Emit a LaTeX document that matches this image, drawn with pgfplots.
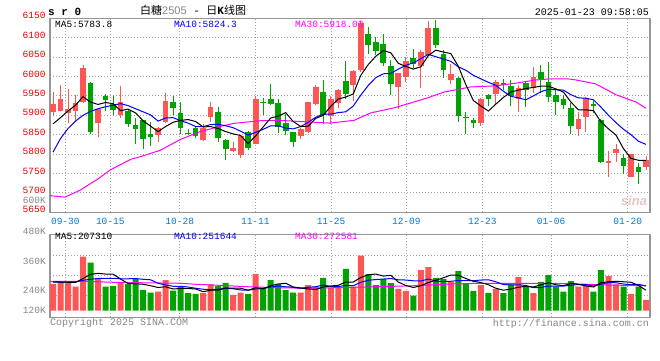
\documentclass[border=0pt]{standalone}
\usepackage{pgfplots}
\pgfplotsset{compat=1.18}
\usepackage{fontspec}
\setmainfont{Liberation Mono}
\newfontfamily\cjk{Noto Sans CJK SC}
\newfontfamily\lsans{Liberation Sans}
\definecolor{upRed}{RGB}{255,85,85}
\definecolor{downGreen}{RGB}{0,163,0}
\definecolor{labRed}{RGB}{235,0,0}
\definecolor{dateBlue}{RGB}{0,120,215}
\definecolor{gridGray}{RGB}{165,165,165}
\definecolor{frameGray}{RGB}{150,150,150}
\definecolor{txtGray}{RGB}{135,135,135}
\definecolor{maBlue}{RGB}{0,0,255}
\definecolor{maMag}{RGB}{255,0,255}
\definecolor{logoPink}{RGB}{235,195,195}
\newcommand\fa{\fontsize{9.5}{10}\selectfont}
\newcommand\fb{\fontsize{10}{11}\selectfont}
\pgfplotsset{
  sinaframe/.style={
    anchor=south west, width=600pt, scale only axis,
    xmin=-0.4, xmax=79.53,
    axis line style={draw=frameGray, line width=1.4pt},
    xtick={1.64,7.63,16.88,26.95,37.04,47.07,57.19,66.35,76.56},
    grid=major,
    major grid style={draw=gridGray, line width=1pt, dash pattern=on 1pt off 2pt},
    major tick length=0pt,
  }
}
\begin{document}
\begin{tikzpicture}
\fill[white] (0pt,0pt) rectangle (660pt,360pt);
\useasboundingbox (0pt,0pt) rectangle (660pt,360pt);

% ---------------- price panel ----------------
\begin{axis}[sinaframe,
  at={(50pt,147.7pt)}, height=194pt,
  ymin=5650, ymax=6150,
  xticklabels={09-30,10-15,10-28,11-11,11-25,12-09,12-23,01-06,01-20},
  ytick={5650,5700,...,6150},
  yticklabels={5650,5700,5750,5800,5850,5900,5950,6000,6050,6100,6150},
  xticklabel style={font=\fa, text=dateBlue, anchor=center, yshift=-8.7pt},
  yticklabel style={font=\fa, text=labRed, anchor=east, inner sep=0pt, xshift=-4.3pt, yshift=2.5pt},
]
% red (up) wicks
\addplot[upRed, line width=1pt, unbounded coords=jump] coordinates {
(0,5898)(0,5959)(0,nan) (1,5910)(1,5979)(1,nan) (2,5880)(2,5969)(2,nan) (3,5885)(3,5953)(3,nan)
(4,5932)(4,6030)(4,nan) (6,5844)(6,5919)(6,nan) (9,5892)(9,5975)(9,nan) (14,5831)(14,5870)(14,nan)
(15,5880)(15,5958)(15,nan) (20,5834)(20,5878)(20,nan) (21,5883)(21,5934)(21,nan) (24,5806)(24,5832)(24,nan)
(25,5789)(25,5847)(25,nan) (27,5825)(27,5949)(27,nan) (33,5840)(33,5868)(33,nan) (34,5855)(34,5934)(34,nan)
(35,5926)(35,5977)(35,nan) (37,5877)(37,5949)(37,nan) (38,5919)(38,5969)(38,nan) (40,5936)(40,6017)(40,nan)
(41,6011)(41,6143)(41,nan) (46,5915)(46,6009)(46,nan) (47,5987)(47,6050)(47,nan) (49,5970)(49,6068)(49,nan)
(50,6054)(50,6144)(50,nan) (53,5981)(53,6032)(53,nan) (57,5872)(57,5945)(57,nan) (59,5926)(59,5990)(59,nan)
(62,5909)(62,5979)(62,nan) (64,5958)(64,6024)(64,nan) (70,5847)(70,5908)(70,nan) (71,5857)(71,5946)(71,nan)
(74,5742)(74,5808)(74,nan) (75,5780)(75,5825)(75,nan) (77,5740)(77,5800)(77,nan) (79,5760)(79,5795)
};
% red (up) bodies: open -> close
\addplot[upRed, line width=5.7pt, unbounded coords=jump] coordinates {
(0,5908)(0,5928)(0,nan) (1,5912)(1,5943)(1,nan) (2,5905)(2,5915)(2,nan) (3,5912)(3,5931)(3,nan)
(4,5935)(4,6022)(4,nan) (6,5880)(6,5917)(6,nan) (9,5900)(9,5935)(9,nan) (14,5850)(14,5868)(14,nan)
(15,5882)(15,5938)(15,nan) (20,5836)(20,5868)(20,nan) (21,5895)(21,5922)(21,nan) (24,5807)(24,5815)(24,nan)
(25,5798)(25,5847)(25,nan) (27,5825)(27,5943)(27,nan) (33,5847)(33,5864)(33,nan) (34,5857)(34,5934)(34,nan)
(35,5928)(35,5972)(35,nan) (37,5898)(37,5943)(37,nan) (38,5932)(38,5964)(38,nan) (40,5977)(40,6015)(40,nan)
(41,6017)(41,6139)(41,nan) (46,5972)(46,6009)(46,nan) (47,6000)(47,6040)(47,nan) (49,6026)(49,6063)(49,nan)
(50,6056)(50,6126)(50,nan) (53,5990)(53,6007)(53,nan) (57,5879)(57,5943)(57,nan) (59,5956)(59,5987)(59,nan)
(62,5943)(62,5970)(62,nan) (64,5970)(64,6000)(64,nan) (70,5864)(70,5891)(70,nan) (71,5895)(71,5945)(71,nan)
(74,5778)(74,5783)(74,nan) (75,5803)(75,5812)(75,nan) (77,5740)(77,5800)(77,nan) (79,5766)(79,5785)
};
% green (down) wicks
\addplot[downGreen, line width=1pt, unbounded coords=jump] coordinates {
(5,5851)(5,5985)(5,nan) (7,5911)(7,5956)(7,nan) (8,5902)(8,5950)(8,nan) (10,5870)(10,5915)(10,nan)
(11,5825)(11,5894)(11,nan) (12,5812)(12,5888)(12,nan) (13,5820)(13,5883)(13,nan) (16,5900)(16,5949)(16,nan)
(17,5853)(17,5935)(17,nan) (18,5849)(18,5864)(18,nan) (19,5841)(19,5872)(19,nan) (22,5830)(22,5921)(22,nan)
(23,5785)(23,5839)(23,nan) (26,5810)(26,5859)(26,nan) (28,5900)(28,5945)(28,nan) (29,5926)(29,5981)(29,nan)
(30,5855)(30,5943)(30,nan) (31,5848)(31,5904)(31,nan) (32,5819)(32,5857)(32,nan) (36,5877)(36,5992)(36,nan)
(39,5943)(39,6040)(39,nan) (42,6057)(42,6128)(42,nan) (43,6056)(43,6103)(43,nan) (44,6026)(44,6109)(44,nan)
(45,5953)(45,6043)(45,nan) (48,6022)(48,6071)(48,nan) (51,6073)(51,6145)(51,nan) (52,5996)(52,6068)(52,nan)
(54,5883)(54,5998)(54,nan) (55,5853)(55,5909)(55,nan) (56,5868)(56,5894)(56,nan) (58,5923)(58,5955)(58,nan)
(60,5966)(60,5993)(60,nan) (61,5923)(61,5992)(61,nan) (63,5922)(63,5987)(63,nan) (65,5958)(65,6030)(65,nan)
(66,5935)(66,6037)(66,nan) (67,5902)(67,5964)(67,nan) (68,5915)(68,5952)(68,nan) (69,5853)(69,5932)(69,nan)
(72,5906)(72,5938)(72,nan) (73,5777)(73,5891)(73,nan) (76,5750)(76,5800)(76,nan) (78,5723)(78,5778)
};
% green (down) bodies: open -> close
\addplot[downGreen, line width=5.7pt, unbounded coords=jump] coordinates {
(5,5983)(5,5857)(5,nan) (7,5949)(7,5939)(7,nan) (8,5930)(8,5913)(8,nan) (10,5911)(10,5877)(10,nan)
(11,5874)(11,5865)(11,nan) (12,5887)(12,5839)(12,nan) (13,5852)(13,5844)(13,nan) (16,5935)(16,5918)(16,nan)
(17,5905)(17,5866)(17,nan) (18,5855)(18,5852)(18,nan) (19,5868)(19,5847)(19,nan) (22,5909)(22,5842)(22,nan)
(23,5837)(23,5813)(23,nan) (26,5858)(26,5816)(26,nan) (28,5934)(28,5931)(28,nan) (29,5941)(29,5929)(29,nan)
(30,5933)(30,5870)(30,nan) (31,5879)(31,5860)(31,nan) (32,5857)(32,5830)(32,nan) (36,5960)(36,5900)(36,nan)
(39,5989)(39,5956)(39,nan) (42,6109)(42,6081)(42,nan) (43,6088)(43,6067)(43,nan) (44,6084)(44,6034)(44,nan)
(45,6028)(45,5981)(45,nan) (48,6048)(48,6032)(48,nan) (51,6124)(51,6081)(51,nan) (52,6058)(52,6016)(52,nan)
(54,5996)(54,5898)(54,nan) (55,5896)(55,5892)(55,nan) (56,5889)(56,5879)(56,nan) (58,5953)(58,5943)(58,nan)
(60,5983)(60,5977)(60,nan) (61,5976)(61,5949)(61,nan) (63,5983)(63,5964)(63,nan) (65,6011)(65,5994)(65,nan)
(66,5987)(66,5946)(66,nan) (67,5953)(67,5934)(67,nan) (68,5943)(68,5926)(68,nan) (69,5919)(69,5872)(69,nan)
(72,5928)(72,5925)(72,nan) (73,5889)(73,5780)(73,nan) (76,5789)(76,5770)(76,nan) (78,5768)(78,5755)
};
% MA30
\addplot[maMag, line width=1pt] coordinates {
(-0.4,5693)(1.6,5689)(3.6,5707)(6,5736)(7.6,5759)(10.4,5787)(11.6,5793)(12.7,5800)(14.3,5810)
(17,5838)(19.6,5858)(22.2,5871)(24,5879)(27.6,5886)(30.2,5887)(32.9,5884)(36.9,5880)(40.1,5887)
(42.3,5906)(45.4,5919)(47.7,5932)(49.9,5945)(52.1,5960)(54.3,5968)(55.6,5973)(59,5976)(61.7,5983)
(64.3,5991)(66.3,5994)(68.6,5994)(69.7,5991)(72.3,5981)(75,5953)(77.7,5934)(79,5918)
};
% MA10
\addplot[maBlue, line width=1pt] coordinates {
(0,5805)(1,5840)(2,5866)(3,5885)(4,5900)(5,5910)(6,5917)(7,5922)(8,5926)(9,5930)
(10,5925)(11,5917)(12,5909)(13,5901)(14,5885)(15,5893)(16,5894)(17,5886)(18,5880)(19,5871)
(20,5871)(21,5876)(22,5877)(23,5873)(24,5868)(25,5859)(26,5849)(27,5856)(28,5864)(29,5873)
(30,5873)(31,5867)(32,5865)(33,5871)(34,5882)(35,5895)(36,5903)(37,5903)(38,5907)(39,5909)
(40,5924)(41,5952)(42,5977)(43,5997)(44,6007)(45,6008)(46,6019)(47,6029)(48,6035)(49,6046)
(50,6057)(51,6051)(52,6045)(53,6039)(54,6025)(55,6016)(56,6003)(57,5994)(58,5985)(59,5977)
(60,5962)(61,5949)(62,5945)(63,5940)(64,5950)(65,5961)(66,5967)(67,5966)(68,5965)(69,5953)
(70,5945)(71,5944)(72,5940)(73,5921)(74,5900)(75,5881)(76,5864)(77,5850)(78,5833)(79,5825)
};
% MA5
\addplot[black, line width=1pt] coordinates {
(0,5878)(1,5894)(2,5911)(3,5926)(4,5948)(5,5934)(6,5928)(7,5933)(8,5930)(9,5912)
(10,5916)(11,5906)(12,5886)(13,5872)(14,5858)(15,5871)(16,5882)(17,5887)(18,5889)(19,5884)
(20,5870)(21,5871)(22,5866)(23,5858)(24,5852)(25,5848)(26,5827)(27,5847)(28,5870)(29,5893)
(30,5898)(31,5907)(32,5884)(33,5871)(34,5872)(35,5892)(36,5900)(37,5923)(38,5942)(39,5947)
(40,5955)(41,6003)(42,6031)(43,6052)(44,6067)(45,6061)(46,6034)(47,6026)(48,6019)(49,6025)
(50,6054)(51,6068)(52,6063)(53,6059)(54,6026)(55,5979)(56,5938)(57,5924)(58,5911)(59,5929)
(60,5946)(61,5960)(62,5965)(63,5969)(64,5972)(65,5975)(66,5975)(67,5968)(68,5960)(69,5934)
(70,5914)(71,5914)(72,5912)(73,5883)(74,5865)(75,5849)(76,5814)(77,5789)(78,5784)(79,5784)
};
\end{axis}

% ---------------- volume panel frame ----------------
\begin{axis}[sinaframe,
  at={(50pt,42.7pt)}, height=83pt,
  ymin=0, ymax=83,
  xticklabels={},
  ytick={22.3,42.3,62.3}, yticklabels={},
]
\end{axis}

% ---------------- volume bars (thousands) ----------------
\begin{axis}[
  at={(50pt,49.3pt)}, anchor=south west, width=600pt, height=76.4pt, scale only axis,
  xmin=-0.4, xmax=79.53, ymin=169.7, ymax=476.8, hide axis,
]
\addplot[ybar, bar width=6pt, bar shift=0pt, fill=upRed, draw=none] coordinates {
(0,278)(1,285)(2,281)(3,266)(4,387)(6,302)(9,283)(14,246)(15,293)(20,240)(21,276)(24,233)
(25,242)(27,317)(33,242)(34,273)(35,267)(37,260)(38,260)(40,266)(41,391)(46,257)(47,249)
(49,333)(50,345)(53,286)(57,273)(59,257)(62,305)(64,240)(70,266)(71,276)(74,309)(75,276)
(77,237)(79,213)
};
\addplot[ybar, bar width=6pt, bar shift=0pt, fill=downGreen, draw=none] coordinates {
(5,363)(7,266)(8,269)(10,277)(11,297)(12,253)(13,242)(16,250)(17,266)(18,240)(19,237)
(22,269)(23,282)(26,237)(28,262)(29,293)(30,277)(31,253)(32,242)(36,302)(39,338)(42,317)
(43,273)(44,297)(45,281)(48,230)(51,302)(52,297)(54,329)(55,280)(56,249)(58,241)(60,240)
(61,276)(63,264)(65,286)(66,313)(67,266)(68,246)(69,289)(72,246)(73,333)(76,266)(78,266)
};
% volume MA30
\addplot[maMag, line width=1pt] coordinates {
(-0.4,287)(4,288)(8,284)(12,282)(17,280)(19,276)(22,272)(26,266)(30,262)(34,260)(39,263)
(43,266)(48,270)(52,276)(57,280)(61,280)(66,280)(70,277)(74,273)(79,270)
};
% volume MA10
\addplot[maBlue, line width=1pt] coordinates {
(0,285)(1,285)(2,285)(3,286)(4,292)(5,296)(6,299)(7,300)(8,300)(9,298)
(10,298)(11,299)(12,296)(13,294)(14,280)(15,273)(16,268)(17,268)(18,265)(19,260)
(20,256)(21,254)(22,256)(23,260)(24,258)(25,253)(26,252)(27,257)(28,259)(29,265)
(30,269)(31,266)(32,264)(33,260)(34,264)(35,266)(36,273)(37,267)(38,267)(39,271)
(40,270)(41,284)(42,292)(43,295)(44,297)(45,299)(46,294)(47,293)(48,290)(49,289)
(50,297)(51,289)(52,287)(53,288)(54,291)(55,291)(56,290)(57,293)(58,294)(59,286)
(60,275)(61,273)(62,274)(63,271)(64,262)(65,263)(66,269)(67,269)(68,269)(69,272)
(70,275)(71,275)(72,269)(73,276)(74,283)(75,282)(76,277)(77,274)(78,276)(79,269)
};
% volume MA5
\addplot[black, line width=1pt] coordinates {
(0,286)(1,285)(2,284)(3,283)(4,299)(5,316)(6,320)(7,317)(8,317)(9,297)
(10,279)(11,278)(12,276)(13,270)(14,263)(15,266)(16,257)(17,259)(18,259)(19,257)
(20,246)(21,252)(22,252)(23,261)(24,260)(25,260)(26,252)(27,262)(28,258)(29,270)
(30,277)(31,280)(32,265)(33,261)(34,257)(35,255)(36,265)(37,269)(38,272)(39,285)
(40,285)(41,303)(42,314)(43,317)(44,309)(45,312)(46,285)(47,271)(48,263)(49,270)
(50,283)(51,292)(52,302)(53,313)(54,312)(55,299)(56,288)(57,283)(58,274)(59,260)
(60,252)(61,257)(62,264)(63,268)(64,265)(65,274)(66,282)(67,274)(68,270)(69,280)
(70,276)(71,269)(72,265)(73,282)(74,286)(75,288)(76,286)(77,284)(78,271)(79,252)
};
\end{axis}

% ---------------- texts ----------------
\node[anchor=west, inner sep=0pt] at (48pt,348pt) {\fontsize{11}{12}\selectfont\bfseries s r 0};
\node[anchor=west, inner sep=0pt] at (140pt,349.5pt) {\fontsize{11}{12}\selectfont{\cjk 白糖}{\lsans\color{txtGray}2505} - {\cjk 日}\textbf{K}{\cjk 线图}};
\node[anchor=east, inner sep=0pt] at (649pt,348pt) {\fb 2025-01-23 09:58:05};

\node[anchor=west, inner sep=0pt] at (55pt,336pt) {\fa MA5:5783.8};
\node[anchor=west, inner sep=0pt, text=maBlue] at (174pt,336pt) {\fa MA10:5824.3};
\node[anchor=west, inner sep=0pt, text=maMag] at (295pt,336pt) {\fa MA30:5918.03};

\node[anchor=west, inner sep=0pt] at (55pt,123.8pt) {\fa MA5:207310};
\node[anchor=west, inner sep=0pt, text=maBlue] at (174pt,123.8pt) {\fa MA10:251644};
\node[anchor=west, inner sep=0pt, text=maMag] at (295pt,123.8pt) {\fa MA30:272581};

\node[anchor=east, inner sep=0pt, text=txtGray] at (46pt,159.8pt) {\fa 600K};
\node[anchor=east, inner sep=0pt, text=txtGray] at (46pt,128.8pt) {\fa 480K};
\node[anchor=east, inner sep=0pt, text=txtGray] at (46pt,98.8pt) {\fa 360K};
\node[anchor=east, inner sep=0pt, text=txtGray] at (46pt,69.5pt) {\fa 240K};
\node[anchor=east, inner sep=0pt, text=txtGray] at (46pt,49.5pt) {\fa 120K};

\node[anchor=west, inner sep=0pt, text=txtGray] at (50pt,36.7pt) {\fb Copyright 2025 SINA.COM};
\node[anchor=east, inner sep=0pt, text=txtGray] at (649pt,36pt) {\fb http://finance.sina.com.cn};

\node[inner sep=0pt, text=logoPink] at (634pt,159pt) {\lsans\fontsize{13}{14}\selectfont\bfseries\itshape sina};
\end{tikzpicture}
\end{document}
